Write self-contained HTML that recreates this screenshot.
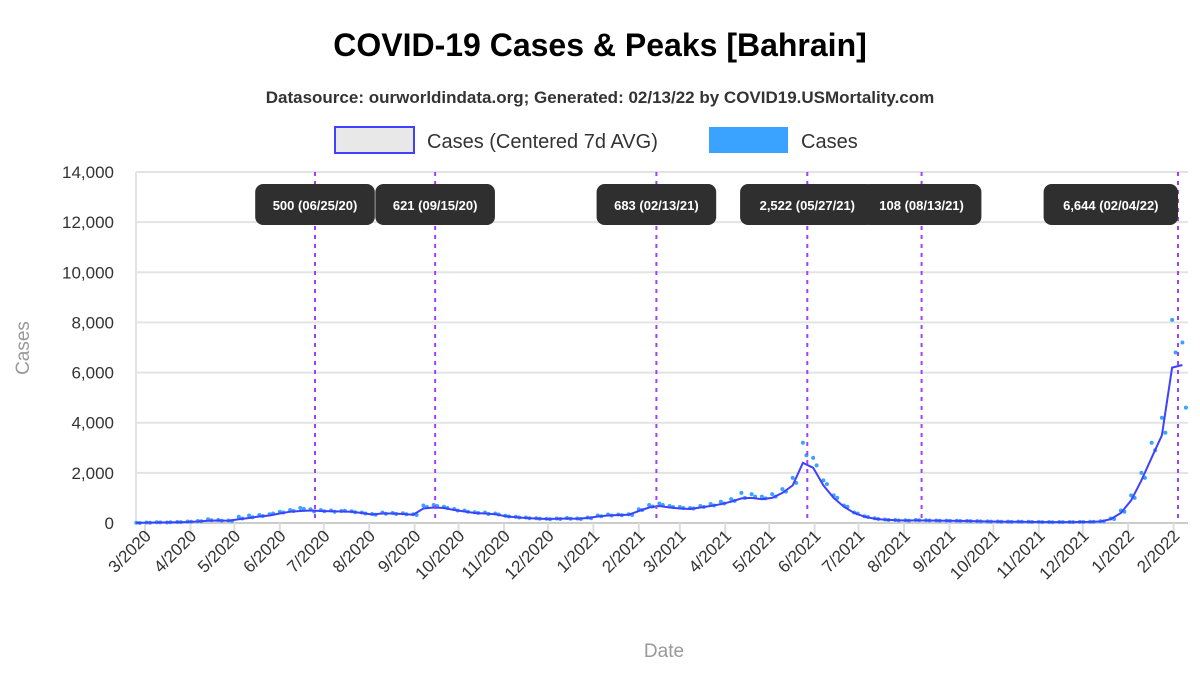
<!DOCTYPE html>
<html><head><meta charset="utf-8"><style>
body{margin:0;background:#fff;font-family:"Liberation Sans",sans-serif}
</style></head><body>
<svg id="c" width="1200" height="670" xmlns="http://www.w3.org/2000/svg" font-family="Liberation Sans, sans-serif">
<text x="600" y="56" text-anchor="middle" font-size="32" font-weight="bold" fill="#000">COVID-19 Cases &amp; Peaks [Bahrain]</text>
<text x="600" y="103" text-anchor="middle" font-size="17" font-weight="bold" fill="#333">Datasource: ourworldindata.org; Generated: 02/13/22 by COVID19.USMortality.com</text>
<g>
<g><rect x="335" y="127" width="79" height="26" fill="#e8e8e8" stroke="#4040ff" stroke-width="2"/><text x="427" y="148" font-size="20" fill="#333">Cases (Centered 7d AVG)</text></g>
<g><rect x="709" y="127" width="79" height="26" fill="#3aa3ff"/><text x="801" y="148" font-size="20" fill="#333">Cases</text></g>
</g>
<text transform="translate(29,348) rotate(-90)" text-anchor="middle" font-size="19" fill="#999">Cases</text>
<text x="664" y="657" text-anchor="middle" font-size="19" fill="#999">Date</text>
<g id="g"></g>
</svg>
<script>
const yTicks=[0,2000,4000,6000,8000,10000,12000,14000];
const xTickLabels=["3/2020","4/2020","5/2020","6/2020","7/2020","8/2020","9/2020","10/2020","11/2020","12/2020","1/2021","2/2021","3/2021","4/2021","5/2021","6/2021","7/2021","8/2021","9/2021","10/2021","11/2021","12/2021","1/2022","2/2022"];
const startDate="2020-02-24";
const avgValues=[5,15,20,25,30,40,60,90,100,90,150,200,260,300,380,450,480,500,480,470,460,450,400,340,380,380,360,330,580,620,600,520,460,400,380,350,270,230,200,180,160,170,180,170,200,260,300,320,330,480,620,680,620,580,560,620,680,750,850,980,1000,950,1000,1200,1500,2400,2200,1500,1000,650,400,250,170,130,110,100,105,100,95,90,85,80,70,60,55,50,50,45,40,35,35,35,40,45,60,150,400,900,1700,2600,3500,6200,6300];
const caseValues=[8,20,30,20,40,60,80,150,120,100,250,300,320,350,450,520,600,550,520,500,480,470,420,360,420,400,390,350,700,720,650,560,500,430,420,380,290,250,220,190,170,180,200,180,220,300,340,340,350,550,720,780,680,640,600,680,760,850,950,1200,1150,1050,1150,1350,1800,3200,2600,1700,1100,700,420,270,190,140,120,110,120,110,100,95,90,85,75,65,60,55,55,50,45,40,40,40,45,50,70,180,500,1100,2000,3200,4200,8100,7200];
const caseValues2=[0,10,25,30,35,50,70,110,90,80,180,230,280,380,420,480,560,460,470,450,490,430,380,330,370,360,350,320,640,680,600,500,450,400,360,340,260,220,190,170,150,160,170,160,190,270,300,310,320,520,660,720,640,600,580,640,700,780,880,1000,1050,980,1050,1250,1600,2700,2300,1550,1000,650,380,240,160,120,100,90,110,100,90,85,80,75,65,55,50,45,50,40,35,30,35,35,40,45,65,160,450,1000,1800,2900,3600,6800,4600];
const peakDates=["2020-06-25","2020-09-15","2021-02-13","2021-05-27","2021-08-13","2022-02-04"];
const peakLabels=["500 (06/25/20)","621 (09/15/20)","683 (02/13/21)","2,522 (05/27/21)","108 (08/13/21)","6,644 (02/04/22)"];
const tickDates=["2020-03-01","2020-04-01","2020-05-01","2020-06-01","2020-07-01","2020-08-01","2020-09-01","2020-10-01","2020-11-01","2020-12-01","2021-01-01","2021-02-01","2021-03-01","2021-04-01","2021-05-01","2021-06-01","2021-07-01","2021-08-01","2021-09-01","2021-10-01","2021-11-01","2021-12-01","2022-01-01","2022-02-01"];
const NS="http://www.w3.org/2000/svg",g=document.getElementById('g');
const L=136,R=1188,Y0=523,Y1=172,D=86400000,t0=Date.parse(startDate);
const x=d=>315+(Date.parse(d)-Date.parse("2020-06-25"))/D*1.4652;
const xi=i=>x(new Date(t0+i*7*D).toISOString().slice(0,10));
const y=v=>Y0-(v/14000)*(Y0-Y1);
function mk(t,a,p){const e=document.createElementNS(NS,t);for(const k in a)e.setAttribute(k,a[k]);(p||g).appendChild(e);return e;}
yTicks.forEach((v,i)=>{
 const l=mk('line',{x1:L,x2:R,y1:y(v),y2:y(v),stroke:v?'#e3e3e3':'#ccc','stroke-width':2});
 
 
 const t=mk('text',{x:114,y:y(v)+6,'text-anchor':'end','font-size':17,fill:'#333'});
 t.textContent=v.toLocaleString('en-US');
 
 
});
const ax=mk('line',{x1:L,x2:L,y1:Y1,y2:Y0,stroke:'#e3e3e3','stroke-width':2});


tickDates.forEach((d,i)=>{
 const xx=x(d);
 const tk=mk('line',{x1:xx,x2:xx,y1:Y0,y2:Y0+15,stroke:'#ddd','stroke-width':2});
 
 
 const t=mk('text',{transform:`translate(${xx+7},${Y0+14}) rotate(-45)`,'text-anchor':'end','font-size':17,fill:'#333'});
 t.textContent=xTickLabels[i];
 
 
});
[caseValues,caseValues2].forEach((arr,k)=>arr.forEach((v,i)=>{
 const c=mk('circle',{cx:xi(i)+(k?3.5:0),cy:y(v),r:2,fill:'#3aa3ff'});
 
 
}));
const p=mk('path',{d:avgValues.map((v,i)=>(i?'L':'M')+xi(i).toFixed(1)+','+y(v).toFixed(1)).join(''),fill:'none',stroke:'#4040ff','stroke-width':2});


peakDates.forEach((d,i)=>{
 const xx=x(d);
 const l=mk('line',{x1:xx,x2:xx,y1:Y1,y2:Y0,stroke:'#a040ff','stroke-width':2,'stroke-dasharray':'4,5'});
 
 
 const w=peakLabels[i].length*7.4+16;
 let bx=xx-w/2; if(bx+w>R-8) bx=xx-w;
 const b=mk('rect',{x:bx,y:184,width:w,height:41,rx:8,fill:'#2f2f2f'});
 
 
 const t=mk('text',{x:bx+w/2,y:210,'text-anchor':'middle','font-size':13,'font-weight':'bold',fill:'#fff'});
 t.textContent=peakLabels[i];
 
 
});
</script>
</body></html>
